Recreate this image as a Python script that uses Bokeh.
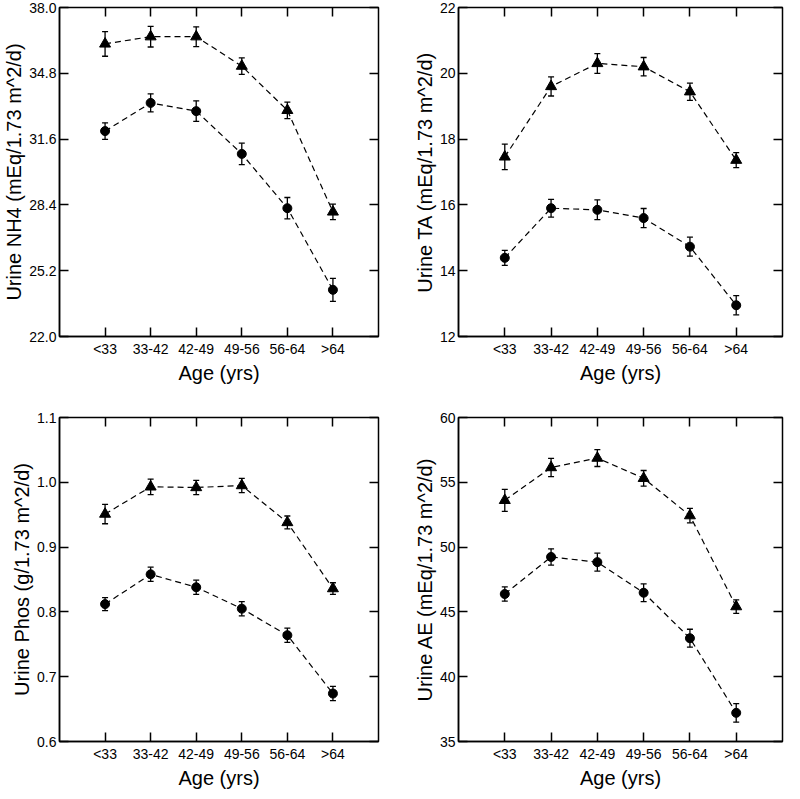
from bokeh.plotting import figure
from bokeh.models import (Range1d, FixedTicker, LinearAxis, Whisker, TeeHead,
                          ColumnDataSource, PrintfTickFormatter)
from bokeh.layouts import gridplot
from bokeh.embed import file_html
from bokeh.resources import INLINE

ages = ["<33", "33-42", "42-49", "49-56", "56-64", ">64"]

nh4_tri = [36.23, 36.58, 36.58, 35.15, 33.00, 28.06]
nh4_tri_err = [0.60, 0.50, 0.48, 0.40, 0.40, 0.38]
nh4_cir = [31.99, 33.36, 32.96, 30.88, 28.24, 24.27]
nh4_cir_err = [0.40, 0.44, 0.50, 0.52, 0.52, 0.56]
nh4_ticks = [22.0, 25.2, 28.4, 31.6, 34.8, 38.0]

ta_tri = [17.46, 19.60, 20.30, 20.20, 19.44, 17.36]
ta_tri_err = [0.39, 0.29, 0.30, 0.28, 0.26, 0.23]
ta_cir = [14.39, 15.90, 15.85, 15.60, 14.73, 12.95]
ta_cir_err = [0.23, 0.27, 0.30, 0.29, 0.29, 0.29]
ta_ticks = [12, 14, 16, 18, 20, 22]

phos_tri = [0.951, 0.993, 0.992, 0.995, 0.938, 0.836]
phos_tri_err = [0.015, 0.012, 0.011, 0.011, 0.010, 0.009]
phos_cir = [0.812, 0.858, 0.838, 0.805, 0.764, 0.674]
phos_cir_err = [0.010, 0.011, 0.011, 0.011, 0.011, 0.011]
phos_ticks = [0.6, 0.7, 0.8, 0.9, 1.0, 1.1]

ae_tri = [53.61, 56.14, 56.87, 55.31, 52.43, 45.41]
ae_tri_err = [0.85, 0.70, 0.65, 0.60, 0.56, 0.52]
ae_cir = [46.38, 49.24, 48.84, 46.48, 42.97, 37.21]
ae_cir_err = [0.55, 0.63, 0.69, 0.68, 0.69, 0.72]
ae_ticks = [35, 40, 45, 50, 55, 60]

FONT = "Liberation Sans"
xidx = list(range(len(ages)))


def style_axis(ax, ticks):
    ax.ticker = FixedTicker(ticks=ticks)
    ax.major_tick_in = 9
    ax.major_tick_out = 0
    ax.minor_tick_line_color = None
    ax.major_tick_line_color = "black"
    ax.major_tick_line_width = 1.5
    ax.axis_line_color = "black"
    ax.axis_line_width = 1.5
    ax.major_label_text_font = FONT
    ax.major_label_text_font_size = "14px"
    ax.major_label_text_color = "black"
    ax.axis_label_text_font = FONT
    ax.axis_label_text_font_size = "20px"
    ax.axis_label_text_font_style = "normal"
    ax.axis_label_text_color = "black"


def blank_axis(ticks):
    ax = LinearAxis()
    style_axis(ax, ticks)
    ax.axis_line_color = None
    ax.major_label_text_color = None
    ax.major_label_text_font_size = "1px"
    ax.major_label_standoff = 0
    return ax


def panel(tri, tri_err, cir, cir_err, yticks, ylabel, fmt, h, bl, br, bt, bb):
    p = figure(width=392, height=h, output_backend="svg", toolbar_location=None,
               x_range=Range1d(-1, 6), y_range=Range1d(yticks[0], yticks[-1]),
               min_border_left=bl, min_border_right=br,
               min_border_top=bt, min_border_bottom=bb)
    p.grid.visible = False
    p.outline_line_color = "black"
    p.outline_line_width = 1.5
    p.background_fill_color = "white"
    p.border_fill_color = "white"

    xa = p.xaxis[0]
    style_axis(xa, xidx)
    xa.major_label_overrides = {i: a for i, a in enumerate(ages)}
    xa.major_label_standoff = 4
    xa.axis_label = "Age (yrs)"
    xa.axis_label_standoff = 2

    ya = p.yaxis[0]
    style_axis(ya, yticks)
    ya.formatter = PrintfTickFormatter(format=fmt)
    ya.major_label_standoff = 3
    ya.axis_label = ylabel
    ya.axis_label_standoff = 1

    p.add_layout(blank_axis(yticks), "right")
    p.add_layout(blank_axis(xidx), "above")

    for vals, errs, marker, size in ((tri, tri_err, "triangle", 11),
                                     (cir, cir_err, "circle", 9)):
        src = ColumnDataSource(dict(
            x=xidx, y=vals,
            lo=[v - e for v, e in zip(vals, errs)],
            hi=[v + e for v, e in zip(vals, errs)]))
        p.line("x", "y", source=src, line_color="black", line_width=1.2,
               line_dash="6 4")
        p.add_layout(Whisker(base="x", upper="hi", lower="lo", source=src,
                             line_color="black", line_width=1.3,
                             upper_head=TeeHead(size=6, line_width=1.3, line_color="black"),
                             lower_head=TeeHead(size=6, line_width=1.3, line_color="black")))
        p.scatter("x", "y", source=src, marker=marker, size=size,
                  fill_color="black", line_color="black")
    return p


p1 = panel(nh4_tri, nh4_tri_err, nh4_cir, nh4_cir_err, nh4_ticks,
           "Urine NH4 (mEq/1.73 m^2/d)", "%.1f", 396, 54, 14, 7, 60)
p2 = panel(ta_tri, ta_tri_err, ta_cir, ta_cir_err, ta_ticks,
           "Urine TA (mEq/1.73 m^2/d)", "%d", 396, 66, 2, 7, 60)
p3 = panel(phos_tri, phos_tri_err, phos_cir, phos_cir_err, phos_ticks,
           "Urine Phos (g/1.73 m^2/d)", "%.1f", 395, 54, 14, 21, 45)
p4 = panel(ae_tri, ae_tri_err, ae_cir, ae_cir_err, ae_ticks,
           "Urine AE (mEq/1.73 m^2/d)", "%d", 395, 66, 2, 21, 45)

grid = gridplot([[p1, p2], [p3, p4]], toolbar_location=None)

open("out.html", "w").write(file_html(grid, INLINE))
